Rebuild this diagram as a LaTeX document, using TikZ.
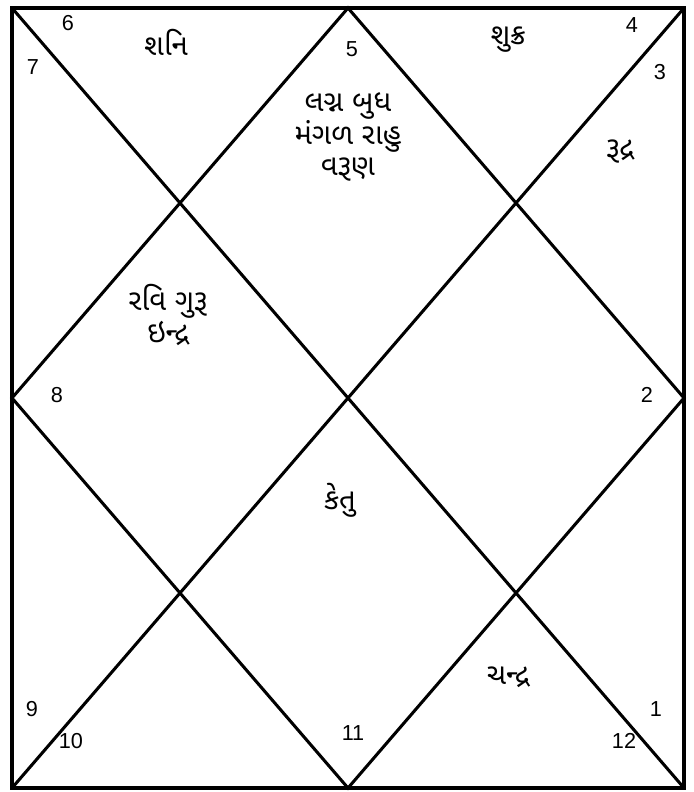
\documentclass[tikz,border=0pt]{standalone}
\usepackage{fontspec}
\setmainfont{Liberation Sans}
\newfontfamily\gujfont[Script=Gujarati]{Noto Sans Gujarati UI}
\usetikzlibrary{calc}
\tikzset{num/.style={font=\fontsize{18.5}{18.5}\selectfont},
	graha/.style={font=\gujfont\fontsize{25}{27}\selectfont,align=center}}

\begin{document}
\begin{tikzpicture}[x=0.03cm,y=-0.03cm,line width=2.6pt]
	\useasboundingbox (0,0) rectangle (693,792);
	\coordinate (TL) at (12,8);
	\coordinate (TR) at (684,8);
	\coordinate (BR) at (684,788);
	\coordinate (BL) at (12,788);
	\coordinate (T) at ($(TL)!0.5!(TR)$);
	\coordinate (R) at ($(TR)!0.5!(BR)$);
	\coordinate (B) at ($(BL)!0.5!(BR)$);
	\coordinate (L) at ($(TL)!0.5!(BL)$);
	\draw (TL)--(TR)--(BR)--(BL)--cycle;
	\draw (TL)--(BR) (TR)--(BL);
	\draw (T)--(R)--(B)--(L)--cycle;
	% house numbers
	\node[num] (h1) at (656,709) {1};
	\node[num] (h2) at (647,395) {2};
	\node[num] (h3) at (660,72) {3};
	\node[num] (h4) at (632,25) {4};
	\node[num] (h5) at (352,49) {5};
	\node[num] (h6) at (68,23) {6};
	\node[num] (h7) at (33,67) {7};
	\node[num] (h8) at (57,395) {8};
	\node[num] (h9) at (32,709) {9};
	\node[num] (h10) at (71,741) {10};
	\node[num] (h11) at (353,733) {11};
	\node[num] (h12) at (624,741) {12};
	% planets
	\node[graha] (g6) at (166,42) {શનિ};
	\node[graha] (g5) at (348,137) {લગ્ન બુધ\\મંગળ રાહુ\\વરૂણ};
	\node[graha] (g4) at (508,40) {શુક્ર};
	\node[graha] (g3) at (620,152) {રૂદ્ર};
	\node[graha] (g7) at (168,315) {રવિ ગુરૂ\\ઇન્દ્ર};
	\node[graha] (g11) at (340,500) {કેતુ};
	\node[graha] (g12) at (508,677) {ચન્દ્ર};
\end{tikzpicture}
\end{document}
